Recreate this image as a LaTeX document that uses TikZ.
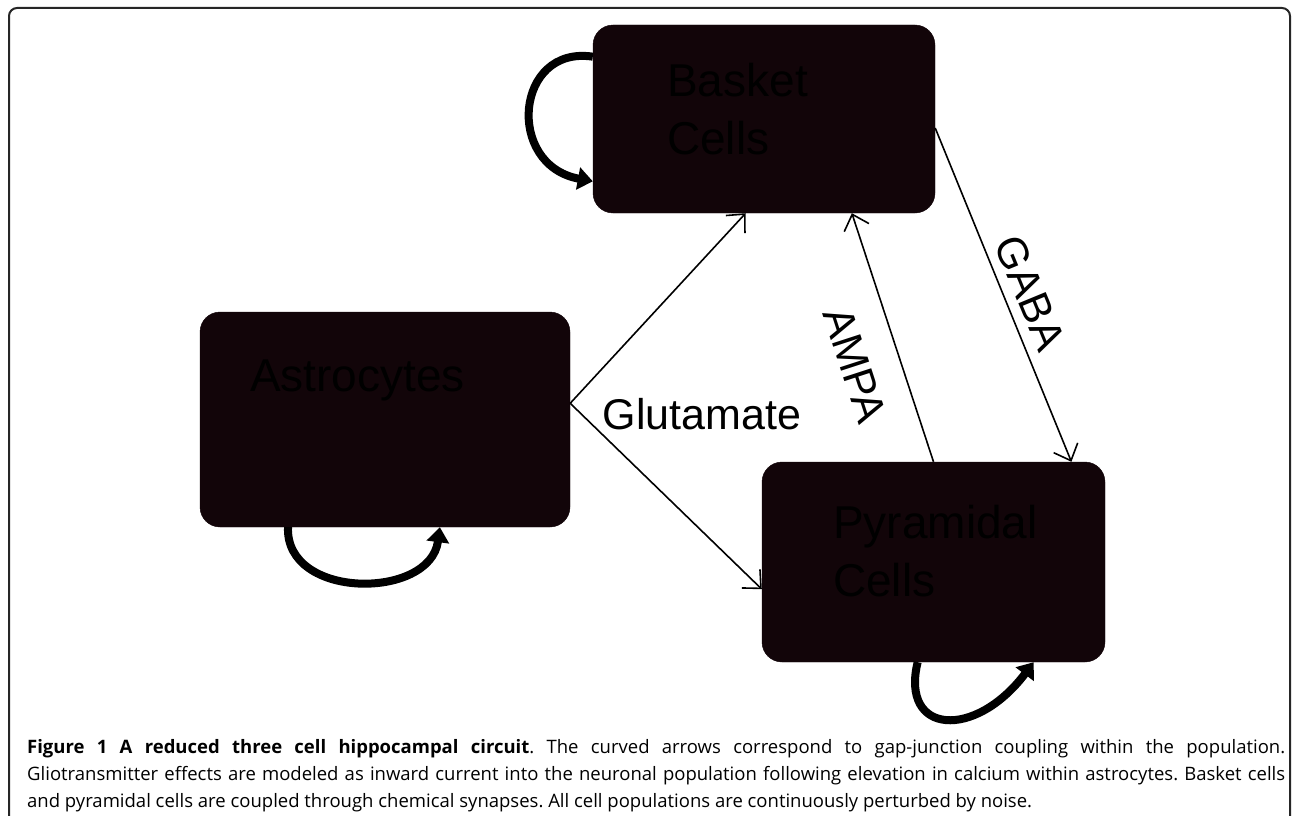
\documentclass[tikz,border=0pt]{standalone}
\usepackage{fontspec}
\newfontfamily\labfont{Liberation Sans}
\newfontfamily\capfont{Open Sans}
\usetikzlibrary{arrows.meta}
\definecolor{cellfill}{RGB}{18,5,9}

\begin{document}
\begin{tikzpicture}[x=1pt, y=-1pt,
	cellbox/.style={draw=cellfill, fill=cellfill, rounded corners=20pt, inner sep=0pt},
	celltext/.style={font=\labfont\fontsize{46}{58}\selectfont, text=black, align=left, inner sep=0pt},
	linklabel/.style={font=\labfont\fontsize{43}{50}\selectfont, inner sep=0pt},
	synapse/.style={line width=1.6pt, -{Straight Barb[length=14pt,width=26pt]}},
	gaploop/.style={line width=8pt, -{Triangle[length=15pt,width=22pt]}}]
	\useasboundingbox (0,0) rectangle (1293,816);
	\draw[line width=2pt, black!85, rounded corners=8pt] (9,830) -- (9,8) -- (1290,8) -- (1290,830);

	% the three populations
	\node[cellbox, minimum width=342pt, minimum height=188pt] (basket) at (764,119) {};
	\node[cellbox, minimum width=370pt, minimum height=215pt] (astro) at (385,419.5) {};
	\node[cellbox, minimum width=343pt, minimum height=200pt] (pyr) at (933.5,562) {};
	\node[celltext, anchor=north west] (basketname) at (667,63) {Basket\\Cells};
	\node[celltext, anchor=north west] (astroname) at (250,360) {Astrocytes};
	\node[celltext, anchor=north west] (pyrname) at (833,505) {Pyramidal\\Cells};

	% gap junctions
	\draw[gaploop] (basket.160) .. controls (515,45) and (505,165) .. (basket.200);
	\draw[gaploop] (astro.228) .. controls (285,600) and (430,600) .. (astro.297);
	\draw[gaploop] (pyr.261) .. controls (900,735) and (975,740) .. (pyr.315);

	% synapses
	\draw[synapse] (astro.5) -- (basket.259);
	\draw[synapse] (astro.5) -- (pyr.189);
	\draw[synapse] (pyr.north) -- (basket.313);
	\draw[synapse] (basket.357) -- (pyr.36);
	\node[linklabel] (glulabel) at (702,414) {Glutamate};
	\node[linklabel, rotate=-72] (ampalabel) at (855,365) {AMPA};
	\node[linklabel, rotate=-67.6] (gabalabel) at (1030,293) {GABA};

	\node[anchor=north west, inner sep=0pt, text width=1258pt, align=justify,
		font=\capfont\fontsize{18.5}{27}\selectfont\frenchspacing] (caption) at (27,739)
		{\textbf{Figure 1 A reduced three cell hippocampal circuit}. The curved arrows correspond to gap-junction coupling within the population.\linebreak
		Gliotransmitter effects are modeled as inward current into the neuronal population following elevation in calcium within astrocytes. Basket cells\linebreak
		and pyramidal cells are coupled through chemical synapses. All cell populations are continuously perturbed by noise.};
\end{tikzpicture}
\end{document}
